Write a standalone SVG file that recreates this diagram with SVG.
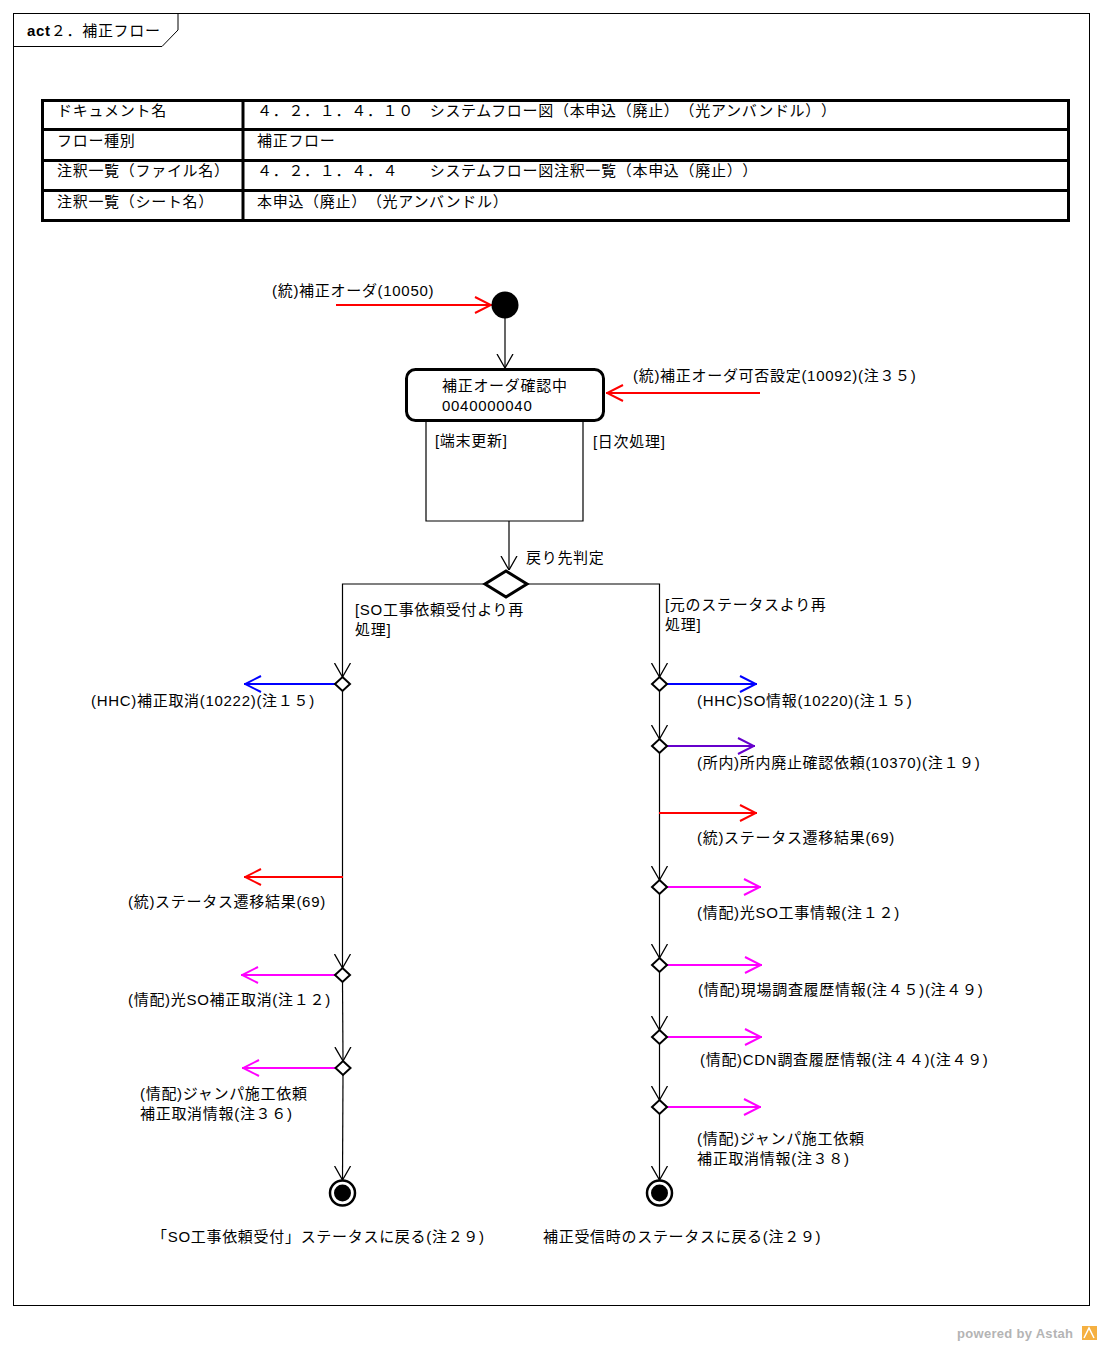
<svg xmlns="http://www.w3.org/2000/svg" width="1102" height="1346" viewBox="0 0 1102 1346">
<style>
text{font-family:"Liberation Sans","Noto Sans CJK JP",sans-serif;font-size:15px;letter-spacing:0.7px;fill:#000;text-spacing-trim:space-all;font-feature-settings:"chws" 0,"halt" 0}
.ln{stroke:#000;stroke-width:1.2;fill:none}
.tb{stroke:#000;stroke-width:3;fill:none}
.red{stroke:#f00;stroke-width:2;fill:none}
.blue{stroke:#00f;stroke-width:2;fill:none}
.pur{stroke:#60c;stroke-width:2;fill:none}
.mag{stroke:#f0f;stroke-width:2;fill:none}
.dia{stroke:#000;stroke-width:2;fill:#fff}
</style>
<defs>
<marker id="ak" viewBox="0 0 14 18" refX="14" refY="9" markerWidth="14" markerHeight="18" markerUnits="userSpaceOnUse" orient="auto"><path d="M0,1 L14,9 L0,17" fill="none" stroke="#000" stroke-width="1.3"/></marker>
<marker id="ar" viewBox="0 0 18 18" refX="18" refY="9" markerWidth="18" markerHeight="18" markerUnits="userSpaceOnUse" orient="auto"><path d="M1,1 L17,9 L1,17" fill="none" stroke="#f00" stroke-width="2"/></marker>
<marker id="ab" viewBox="0 0 18 18" refX="18" refY="9" markerWidth="18" markerHeight="18" markerUnits="userSpaceOnUse" orient="auto"><path d="M1,1 L17,9 L1,17" fill="none" stroke="#00f" stroke-width="2"/></marker>
<marker id="ap" viewBox="0 0 18 18" refX="18" refY="9" markerWidth="18" markerHeight="18" markerUnits="userSpaceOnUse" orient="auto"><path d="M1,1 L17,9 L1,17" fill="none" stroke="#60c" stroke-width="2"/></marker>
<marker id="am" viewBox="0 0 18 18" refX="18" refY="9" markerWidth="18" markerHeight="18" markerUnits="userSpaceOnUse" orient="auto"><path d="M1,1 L17,9 L1,17" fill="none" stroke="#f0f" stroke-width="2"/></marker>
</defs>
<rect width="1102" height="1346" fill="#fff"/>
<g id="frame">
<rect x="13.5" y="13.5" width="1076" height="1292" fill="none" stroke="#000" stroke-width="1"/>
<path d="M13.5,46.5 H162 L178,30 V13.5" fill="none" stroke="#000" stroke-width="1"/>
<text x="27" y="36"><tspan font-weight="bold">act</tspan>２．補正フロー</text>
</g>
<g id="table">
<rect x="42.5" y="100.5" width="1026" height="120" class="tb"/>
<line x1="42" y1="129.5" x2="1069" y2="129.5" class="tb"/>
<line x1="42" y1="160.5" x2="1069" y2="160.5" class="tb"/>
<line x1="42" y1="190.5" x2="1069" y2="190.5" class="tb"/>
<line x1="243" y1="100" x2="243" y2="221" class="tb"/>
<text x="57" y="116">ドキュメント名</text>
<text x="257" y="116">４．２．１．４．１０　システムフロー図（本申込（廃止）（光アンバンドル））</text>
<text x="57" y="146">フロー種別</text>
<text x="257" y="146">補正フロー</text>
<text x="57" y="176">注釈一覧（ファイル名）</text>
<text x="257" y="176">４．２．１．４．４　　システムフロー図注釈一覧（本申込（廃止））</text>
<text x="57" y="207">注釈一覧（シート名）</text>
<text x="257" y="207">本申込（廃止）（光アンバンドル）</text>
</g>
<g id="connectors">
<line x1="336" y1="305" x2="492" y2="305" class="red" marker-end="url(#ar)"/>
<line x1="505" y1="318" x2="505" y2="368" class="ln" marker-end="url(#ak)"/>
<line x1="760" y1="393" x2="606" y2="393" class="red" marker-end="url(#ar)"/>
<path d="M426,421 V521 H583 V421" class="ln"/>
<line x1="509" y1="521" x2="509" y2="570" class="ln" marker-end="url(#ak)"/>
<path d="M486,584 H342.5 V677" class="ln" marker-end="url(#ak)"/>
<path d="M526,584 H659.5 V677" class="ln" marker-end="url(#ak)"/>
<line x1="342.5" y1="690" x2="342.5" y2="968" class="ln" marker-end="url(#ak)"/>
<line x1="342.5" y1="981" x2="343" y2="1061" class="ln" marker-end="url(#ak)"/>
<line x1="343" y1="1074" x2="342.5" y2="1180" class="ln" marker-end="url(#ak)"/>
<line x1="659.5" y1="690" x2="659.5" y2="739" class="ln" marker-end="url(#ak)"/>
<line x1="659.5" y1="752" x2="659.5" y2="880" class="ln" marker-end="url(#ak)"/>
<line x1="659.5" y1="893" x2="659.5" y2="958" class="ln" marker-end="url(#ak)"/>
<line x1="659.5" y1="971" x2="659.5" y2="1030" class="ln" marker-end="url(#ak)"/>
<line x1="659.5" y1="1043" x2="659.5" y2="1100" class="ln" marker-end="url(#ak)"/>
<line x1="659.5" y1="1113" x2="659.5" y2="1180" class="ln" marker-end="url(#ak)"/>
<line x1="335" y1="684" x2="244" y2="684" class="blue" marker-end="url(#ab)"/>
<line x1="343" y1="877" x2="244" y2="877" class="red" marker-end="url(#ar)"/>
<line x1="335" y1="975" x2="241" y2="975" class="mag" marker-end="url(#am)"/>
<line x1="336" y1="1068" x2="242" y2="1068" class="mag" marker-end="url(#am)"/>
<line x1="667" y1="684" x2="757" y2="684" class="blue" marker-end="url(#ab)"/>
<line x1="667" y1="746" x2="755" y2="746" class="pur" marker-end="url(#ap)"/>
<line x1="659" y1="813" x2="757" y2="813" class="red" marker-end="url(#ar)"/>
<line x1="667" y1="887" x2="761" y2="887" class="mag" marker-end="url(#am)"/>
<line x1="667" y1="965" x2="762" y2="965" class="mag" marker-end="url(#am)"/>
<line x1="667" y1="1037" x2="762" y2="1037" class="mag" marker-end="url(#am)"/>
<line x1="667" y1="1107" x2="761" y2="1107" class="mag" marker-end="url(#am)"/>
</g>
<g id="labels">
<text x="272" y="296">(統)補正オーダ(10050)</text>
<text x="633" y="381">(統)補正オーダ可否設定(10092)(注３５)</text>
<text x="435" y="446">[端末更新]</text>
<text x="593" y="447">[日次処理]</text>
<text x="526" y="563">戻り先判定</text>
<text x="355" y="615">[SO工事依頼受付より再</text>
<text x="355" y="635">処理]</text>
<text x="665" y="610">[元のステータスより再</text>
<text x="665" y="630">処理]</text>
<text x="91" y="706">(HHC)補正取消(10222)(注１５)</text>
<text x="128" y="907">(統)ステータス遷移結果(69)</text>
<text x="128" y="1005">(情配)光SO補正取消(注１２)</text>
<text x="140" y="1099">(情配)ジャンパ施工依頼</text>
<text x="140" y="1119">補正取消情報(注３６)</text>
<text x="697" y="706">(HHC)SO情報(10220)(注１５)</text>
<text x="697" y="768">(所内)所内廃止確認依頼(10370)(注１９)</text>
<text x="697" y="843">(統)ステータス遷移結果(69)</text>
<text x="697" y="918">(情配)光SO工事情報(注１２)</text>
<text x="698" y="995">(情配)現場調査履歴情報(注４５)(注４９)</text>
<text x="700" y="1065">(情配)CDN調査履歴情報(注４４)(注４９)</text>
<text x="697" y="1144">(情配)ジャンパ施工依頼</text>
<text x="697" y="1164">補正取消情報(注３８)</text>
</g>
<g id="initial"><circle cx="505" cy="305" r="13.5" fill="#000"/></g>
<g id="state">
<rect x="406.5" y="369.5" width="197" height="51" rx="9" fill="#fff" stroke="#000" stroke-width="3"/>
<text x="442" y="391">補正オーダ確認中</text>
<text x="442" y="411">0040000040</text>
</g>
<g id="decision"><polygon points="506,571 527,584 506,597 485,584" fill="#fff" stroke="#000" stroke-width="3"/></g>
<g id="fork-l1"><polygon points="342.5,677 350,684 342.5,691 335,684" class="dia"/></g>
<g id="fork-l2"><polygon points="342.5,968 350,975 342.5,982 335,975" class="dia"/></g>
<g id="fork-l3"><polygon points="343,1061 350.5,1068 343,1075 335.5,1068" class="dia"/></g>
<g id="fork-r1"><polygon points="659.5,677 667,684 659.5,691 652,684" class="dia"/></g>
<g id="fork-r2"><polygon points="659.5,739 667,746 659.5,753 652,746" class="dia"/></g>
<g id="fork-r3"><polygon points="659.5,880 667,887 659.5,894 652,887" class="dia"/></g>
<g id="fork-r4"><polygon points="659.5,958 667,965 659.5,972 652,965" class="dia"/></g>
<g id="fork-r5"><polygon points="659.5,1030 667,1037 659.5,1044 652,1037" class="dia"/></g>
<g id="fork-r6"><polygon points="659.5,1100 667,1107 659.5,1114 652,1107" class="dia"/></g>
<g id="final-l">
<circle cx="342.5" cy="1193" r="12.5" fill="#fff" stroke="#000" stroke-width="2.5"/>
<circle cx="342.5" cy="1193" r="8.5" fill="#000"/>
<text x="152" y="1242">「SO工事依頼受付」ステータスに戻る(注２９)</text>
</g>
<g id="final-r">
<circle cx="659.5" cy="1193" r="12.5" fill="#fff" stroke="#000" stroke-width="2.5"/>
<circle cx="659.5" cy="1193" r="8.5" fill="#000"/>
<text x="543" y="1242">補正受信時のステータスに戻る(注２９)</text>
</g>
<g id="watermark">
<text x="957" y="1338" style="font-size:13px;font-weight:bold;fill:#b4b4b4;letter-spacing:0.3px">powered by Astah</text>
<rect x="1082" y="1326" width="15" height="14" fill="#f5b041"/>
<path d="M1084,1338 L1089,1328 L1094,1338" fill="none" stroke="#fff" stroke-width="1.5"/>
</g>
</svg>
